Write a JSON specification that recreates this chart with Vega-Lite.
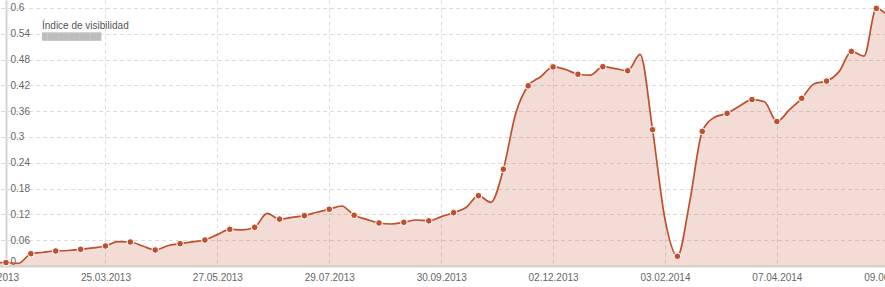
{
  "$schema": "https://vega.github.io/schema/vega-lite/v6.json",
  "width": 879,
  "height": 266,
  "autosize": {"type": "none"},
  "padding": {"left": 6, "top": 0, "right": 0, "bottom": 21},
  "background": "white",
  "config": {"view": {"stroke": null}, "font": "Liberation Sans"},
  "title": {
    "text": "Índice de visibilidad",
    "subtitle": "███████████",
    "anchor": "start",
    "frame": "group",
    "orient": "top",
    "offset": 0,
    "dx": 36,
    "dy": 40,
    "font": "Liberation Sans",
    "fontSize": 10,
    "fontWeight": "normal",
    "color": "#555555",
    "subtitleFont": "DejaVu Sans",
    "subtitleFontSize": 7,
    "subtitleColor": "#bdbdbd",
    "subtitlePadding": 2
  },
  "data": {
    "values": [
      {"fecha": "2013/01/21", "indice": 0.007, "marcador": false},
      {"fecha": "2013/01/28", "indice": 0.008, "marcador": true},
      {"fecha": "2013/02/04", "indice": 0.006, "marcador": false},
      {"fecha": "2013/02/11", "indice": 0.0286, "marcador": true},
      {"fecha": "2013/02/18", "indice": 0.032, "marcador": false},
      {"fecha": "2013/02/25", "indice": 0.0349, "marcador": true},
      {"fecha": "2013/03/04", "indice": 0.036, "marcador": false},
      {"fecha": "2013/03/11", "indice": 0.0388, "marcador": true},
      {"fecha": "2013/03/18", "indice": 0.042, "marcador": false},
      {"fecha": "2013/03/25", "indice": 0.0465, "marcador": true},
      {"fecha": "2013/04/01", "indice": 0.0565, "marcador": false},
      {"fecha": "2013/04/08", "indice": 0.0558, "marcador": true},
      {"fecha": "2013/04/15", "indice": 0.0465, "marcador": false},
      {"fecha": "2013/04/22", "indice": 0.0372, "marcador": true},
      {"fecha": "2013/04/29", "indice": 0.047, "marcador": false},
      {"fecha": "2013/05/06", "indice": 0.0519, "marcador": true},
      {"fecha": "2013/05/13", "indice": 0.056, "marcador": false},
      {"fecha": "2013/05/20", "indice": 0.0605, "marcador": true},
      {"fecha": "2013/05/27", "indice": 0.073, "marcador": false},
      {"fecha": "2013/06/03", "indice": 0.0853, "marcador": true},
      {"fecha": "2013/06/10", "indice": 0.084, "marcador": false},
      {"fecha": "2013/06/17", "indice": 0.09, "marcador": true},
      {"fecha": "2013/06/24", "indice": 0.1225, "marcador": false},
      {"fecha": "2013/07/01", "indice": 0.109, "marcador": true},
      {"fecha": "2013/07/08", "indice": 0.113, "marcador": false},
      {"fecha": "2013/07/15", "indice": 0.117, "marcador": true},
      {"fecha": "2013/07/22", "indice": 0.125, "marcador": false},
      {"fecha": "2013/07/29", "indice": 0.132, "marcador": true},
      {"fecha": "2013/08/05", "indice": 0.1395, "marcador": false},
      {"fecha": "2013/08/12", "indice": 0.118, "marcador": true},
      {"fecha": "2013/08/19", "indice": 0.1085, "marcador": false},
      {"fecha": "2013/08/26", "indice": 0.1, "marcador": true},
      {"fecha": "2013/09/02", "indice": 0.0977, "marcador": false},
      {"fecha": "2013/09/09", "indice": 0.1016, "marcador": true},
      {"fecha": "2013/09/16", "indice": 0.107, "marcador": false},
      {"fecha": "2013/09/23", "indice": 0.105, "marcador": true},
      {"fecha": "2013/09/30", "indice": 0.1147, "marcador": false},
      {"fecha": "2013/10/07", "indice": 0.124, "marcador": true},
      {"fecha": "2013/10/14", "indice": 0.136, "marcador": false},
      {"fecha": "2013/10/21", "indice": 0.1635, "marcador": true},
      {"fecha": "2013/10/28", "indice": 0.148, "marcador": false},
      {"fecha": "2013/11/04", "indice": 0.225, "marcador": true},
      {"fecha": "2013/11/11", "indice": 0.355, "marcador": false},
      {"fecha": "2013/11/18", "indice": 0.419, "marcador": true},
      {"fecha": "2013/11/25", "indice": 0.44, "marcador": false},
      {"fecha": "2013/12/02", "indice": 0.463, "marcador": true},
      {"fecha": "2013/12/09", "indice": 0.457, "marcador": false},
      {"fecha": "2013/12/16", "indice": 0.446, "marcador": true},
      {"fecha": "2013/12/23", "indice": 0.444, "marcador": false},
      {"fecha": "2013/12/30", "indice": 0.4635, "marcador": true},
      {"fecha": "2014/01/06", "indice": 0.459, "marcador": false},
      {"fecha": "2014/01/13", "indice": 0.454, "marcador": true},
      {"fecha": "2014/01/20", "indice": 0.492, "marcador": false},
      {"fecha": "2014/01/27", "indice": 0.317, "marcador": true},
      {"fecha": "2014/02/03", "indice": 0.109, "marcador": false},
      {"fecha": "2014/02/10", "indice": 0.0226, "marcador": true},
      {"fecha": "2014/02/17", "indice": 0.151, "marcador": false},
      {"fecha": "2014/02/24", "indice": 0.313, "marcador": true},
      {"fecha": "2014/03/03", "indice": 0.346, "marcador": false},
      {"fecha": "2014/03/10", "indice": 0.355, "marcador": true},
      {"fecha": "2014/03/17", "indice": 0.372, "marcador": false},
      {"fecha": "2014/03/24", "indice": 0.387, "marcador": true},
      {"fecha": "2014/03/31", "indice": 0.382, "marcador": false},
      {"fecha": "2014/04/07", "indice": 0.336, "marcador": true},
      {"fecha": "2014/04/14", "indice": 0.363, "marcador": false},
      {"fecha": "2014/04/21", "indice": 0.39, "marcador": true},
      {"fecha": "2014/04/28", "indice": 0.424, "marcador": false},
      {"fecha": "2014/05/05", "indice": 0.43, "marcador": true},
      {"fecha": "2014/05/12", "indice": 0.452, "marcador": false},
      {"fecha": "2014/05/19", "indice": 0.499, "marcador": true},
      {"fecha": "2014/05/26", "indice": 0.488, "marcador": false},
      {"fecha": "2014/06/02", "indice": 0.599, "marcador": true},
      {"fecha": "2014/06/09", "indice": 0.58, "marcador": false}
    ]
  },
  "encoding": {
    "x": {
      "field": "fecha",
      "type": "temporal",
      "scale": {
        "domain": [{"year": 2013, "month": 1, "date": 21}, {"year": 2014, "month": 6, "date": 9}],
        "range": [-12.43, 882.77]
      },
      "axis": {
        "title": null,
        "values": [
          {"year": 2013, "month": 1, "date": 21},
          {"year": 2013, "month": 3, "date": 25},
          {"year": 2013, "month": 5, "date": 27},
          {"year": 2013, "month": 7, "date": 29},
          {"year": 2013, "month": 9, "date": 30},
          {"year": 2013, "month": 12, "date": 2},
          {"year": 2014, "month": 2, "date": 3},
          {"year": 2014, "month": 4, "date": 7},
          {"year": 2014, "month": 6, "date": 9}
        ],
        "format": "%d.%m.%Y",
        "grid": true,
        "gridColor": "#dcdcdc",
        "gridDash": [4, 3],
        "gridWidth": 1,
        "ticks": false,
        "labelPadding": 6,
        "labelFont": "Liberation Sans",
        "labelFontSize": 10,
        "labelColor": "#666666",
        "labelOverlap": false,
        "labelFlush": false,
        "domainColor": "#d4d4d4",
        "domainWidth": 2
      }
    },
    "y": {
      "field": "indice",
      "type": "quantitative",
      "scale": {"domain": [0, 0.6186], "nice": false},
      "axis": {
        "title": null,
        "values": [0, 0.06, 0.12, 0.18, 0.24, 0.3, 0.36, 0.42, 0.48, 0.54, 0.6],
        "format": "~g",
        "grid": true,
        "gridColor": "#dcdcdc",
        "gridDash": [4, 3],
        "gridWidth": 1,
        "ticks": false,
        "labelAlign": "left",
        "labelPadding": -4,
        "labelBaseline": {"condition": {"test": "datum.value == 0", "value": "bottom"}, "value": "middle"},
        "labelFont": "Liberation Sans",
        "labelFontSize": 10,
        "labelColor": "#666666",
        "labelOverlap": false,
        "labelFlush": false,
        "domainColor": "#d4d4d4",
        "domainWidth": 2
      }
    }
  },
  "layer": [
    {"mark": {"type": "area", "interpolate": "monotone", "color": "#be502d", "fillOpacity": 0.2}},
    {"mark": {"type": "line", "interpolate": "monotone", "color": "#be502d", "strokeWidth": 1.7}},
    {
      "transform": [{"filter": "datum.marcador"}],
      "mark": {"type": "circle", "size": 44, "fill": "#be502d", "stroke": "#ffffff", "strokeWidth": 1, "opacity": 1}
    }
  ]
}
